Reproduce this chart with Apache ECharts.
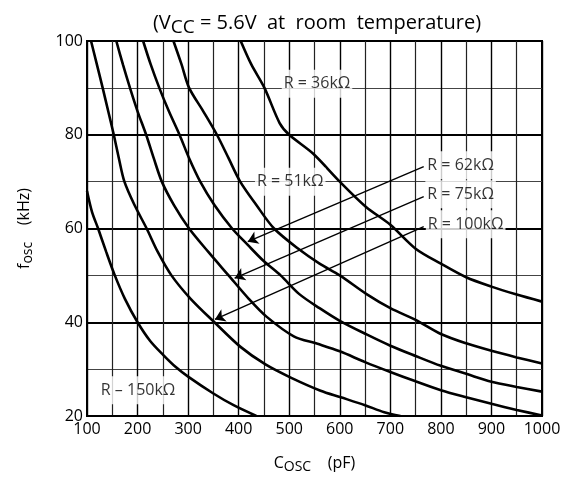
<!DOCTYPE html>
<html>
<head>
<meta charset="utf-8">
<script src="https://cdn.jsdelivr.net/npm/echarts@6/dist/echarts.min.js"></script>
<style>html,body{margin:0;padding:0;background:#fff}#c{width:564px;height:482px}</style>
</head>
<body>
<div id="c"></div>
<script>
// ---- data (C_osc in pF, f_osc in kHz) ----
const xTickValues = [100, 200, 300, 400, 500, 600, 700, 800, 900, 1000];
const yTickValues = [20, 40, 60, 80, 100];

const r36k = [[404,100],[425,95],[451,90],[481,82.5],[500,80],[547,76],[600,70],[652,64.6],[700,60.8],[750,55.7],[800,52.5],[850,49.6],[900,47.6],[950,45.9],[1000,44.4]];
const r51k = [[271,100],[287,95],[302,90],[330,85],[357,80],[380,75],[403,70],[435,65],[470,60],[520,55.5],[560,52.5],[600,50],[653,46],[700,43],[750,40.5],[800,37.5],[850,35.5],[900,33.9],[950,32.5],[1000,31.2]];
const r62k = [[211,100],[226,95],[243,90],[262,85],[283,80],[302,75],[324,70],[352,65],[387,60],[418,56.5],[450,53],[483,50],[520,46],[560,43],[600,40.3],[653,37.4],[700,35],[750,32.8],[800,30.7],[850,29],[900,27.3],[950,26.2],[1000,25.2]];
const r75k = [[158,100],[171,95],[185,90],[200,85],[217,80],[232,75],[248,70],[272,65],[302,60],[340,55],[380,50],[420,45],[455,41.2],[509,37],[556,35.4],[600,33.8],[650,31.5],[700,29.4],[750,27.4],[800,25.5],[850,24],[900,22.6],[950,21.3],[1000,20.1]];
const r100k = [[108,100],[119.5,95],[131,90],[142,85],[153,80],[163,75],[174,70],[194,65],[218,60],[240,55],[267,50],[305,45],[352,40],[403,34.8],[453,31],[503,28.2],[562,25.4],[602,24],[650,22.3],[688,20.8],[720,20]];
const r150k = [[100,68],[110,63.5],[122,60],[138,55],[155,50],[175,45],[200,40],[225,36],[251,33],[275,30.5],[300,28.4],[350,24.8],[390,22.3],[435,20]];

const curveNames = ['R = 36kΩ', 'R = 51kΩ', 'R = 62kΩ', 'R = 75kΩ', 'R = 100kΩ', 'R – 150kΩ'];
const curves = [r36k, r51k, r62k, r75k, r100k, r150k];

// annotation anchors (text centre) in data units
const labelAnchors = [[555, 90.9], [502, 70], [839, 73.5], [839, 67.3], [849, 60.9], [201, 25.5]];
// arrows: [from, to]
const arrows = [
  [[766, 73.2], [418, 57.2]],
  [[766, 66.8], [392, 49.4]],
  [[766, 60.4], [353, 40.6]]
];

const titleText = '(V{s|CC} = 5.6V  at  room  temperature)';
const xName = 'C{s|OSC}    (pF)';
const yName = 'f{s|osc}    (kHz)';

// ---- chart ----
const FONT = 'Open Sans';
const chart = echarts.init(document.getElementById('c'), null, {renderer: 'canvas'});

const series = curves.map((d, i) => ({
  type: 'line', name: curveNames[i], data: d, smooth: 0.3, showSymbol: false,
  lineStyle: {color: '#000', width: 2.6}, z: 3, silent: true, clip: true
}));

series.push({
  type: 'lines', coordinateSystem: 'cartesian2d', z: 4, silent: true,
  symbol: ['none', 'arrow'], symbolSize: [0, 10],
  lineStyle: {color: '#000', width: 1.4, opacity: 1},
  data: arrows.map(a => ({coords: a}))
});

series.push({
  type: 'scatter', symbolSize: 0, z: 5, silent: true,
  data: labelAnchors.map((p, i) => [p[0], p[1], curveNames[i]]),
  label: {
    show: true, position: 'inside', formatter: p => p.data[2],
    color: '#000', fontFamily: FONT, fontSize: 16,
    backgroundColor: '#fff', padding: [6, 2]
  }
});

chart.setOption({
  animation: false,
  backgroundColor: '#fff',
  title: {
    text: titleText, left: 312, textAlign: 'center', top: 5,
    textStyle: {
      fontFamily: FONT, fontSize: 20, fontWeight: 'normal', color: '#000',
      rich: {s: {fontFamily: FONT, fontSize: 19, padding: [8, 0, 0, 0], color: '#000'}}
    }
  },
  grid: {left: 87, right: 22, top: 41, bottom: 66, show: true, borderColor: '#000', borderWidth: 2, backgroundColor: 'transparent'},
  xAxis: {
    type: 'value', min: 100, max: 1000, interval: 100,
    name: xName, nameLocation: 'middle', nameGap: 36,
    nameTextStyle: {fontFamily: FONT, fontSize: 16, color: '#000',
      rich: {s: {fontFamily: FONT, fontSize: 14, padding: [8, 0, 0, 0], color: '#000'}}},
    axisLine: {show: true, lineStyle: {color: '#000', width: 2}},
    axisTick: {show: false},
    axisLabel: {fontFamily: FONT, fontSize: 16, color: '#000', margin: 5, formatter: v => String(v)},
    splitLine: {show: true, lineStyle: {color: '#000', width: 1.4}},
    minorTick: {show: false, splitNumber: 2},
    minorSplitLine: {show: true, lineStyle: {color: '#222', width: 1.2}}
  },
  yAxis: {
    type: 'value', min: 20, max: 100, interval: 20,
    name: yName, nameLocation: 'middle', nameGap: 52,
    nameTextStyle: {fontFamily: FONT, fontSize: 16, color: '#000',
      rich: {s: {fontFamily: FONT, fontSize: 14, padding: [8, 0, 0, 0], color: '#000'}}},
    axisLine: {show: true, lineStyle: {color: '#000', width: 2}},
    axisTick: {show: false},
    axisLabel: {fontFamily: FONT, fontSize: 16, color: '#000', margin: 4},
    splitLine: {show: true, lineStyle: {color: '#000', width: 1.8}},
    minorTick: {show: false, splitNumber: 2},
    minorSplitLine: {show: true, lineStyle: {color: '#444', width: 1}}
  },
  series: series
});
</script>
</body>
</html>
